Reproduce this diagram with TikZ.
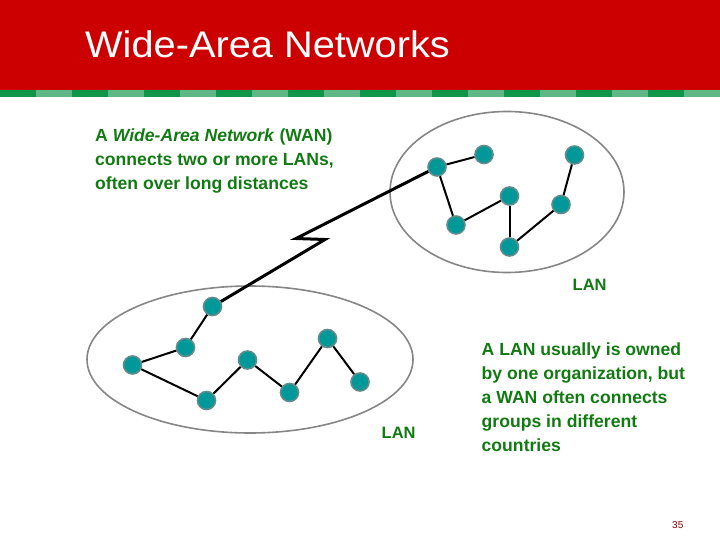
\documentclass[tikz,border=0pt]{standalone}
\usepackage{fontspec}
\setmainfont{Liberation Sans}
\definecolor{hdrred}{RGB}{204,0,0}
\definecolor{stripdark}{RGB}{16,150,72}
\definecolor{striplight}{RGB}{94,184,134}
\definecolor{txtgreen}{RGB}{18,122,18}
\definecolor{nodefill}{RGB}{0,152,152}
\definecolor{nodeedge}{RGB}{98,140,140}
\definecolor{pagered}{RGB}{128,0,0}
\tikzset{
  host/.style={circle,fill=nodefill,draw=nodeedge,line width=1.6bp,minimum size=18bp,inner sep=0pt},
  link/.style={line width=2bp,black},
  wan/.style={line width=3bp,black,line join=miter},
  lanring/.style={draw=gray!95,line width=1.6bp},
  body/.style={text=txtgreen,font={\fontsize{17.6bp}{24bp}\selectfont\bfseries},align=left,anchor=base west,inner sep=0pt},
  lanlabel/.style={text=txtgreen,font={\fontsize{16.5bp}{20bp}\selectfont\bfseries},anchor=base west,inner sep=0pt}
}
\begin{document}
\begin{tikzpicture}[x=1bp,y=-1bp]
\useasboundingbox (0,0) rectangle (720,540);
% header
\fill[hdrred] (0,0) rectangle (720,90);
\foreach \i in {0,...,9}{
  \fill[stripdark] (72*\i,90) rectangle (72*\i+36,97);
  \fill[striplight] (72*\i+36,90) rectangle (72*\i+72,97);
}
\node[anchor=base west,inner sep=0pt,text=white,font={\fontsize{37bp}{40bp}\selectfont}] (title) at (85,57.5) {\scalebox{1.075}[1]{Wide-Area Networks}};
% ellipses
\draw[lanring] (507,192) ellipse [x radius=117,y radius=80.5];
\draw[lanring] (250,359.5) ellipse [x radius=163,y radius=73.5];
% upper LAN hosts
\node[host] (U1) at (437,167) {};
\node[host] (U2) at (484,154.5) {};
\node[host] (U3) at (574.5,155) {};
\node[host] (U4) at (509.5,196) {};
\node[host] (U5) at (561,204.5) {};
\node[host] (U6) at (456,225) {};
\node[host] (U7) at (509.5,247) {};
% lower LAN hosts
\node[host] (L1) at (212.5,306.5) {};
\node[host] (L2) at (185.5,347.5) {};
\node[host] (L3) at (132.5,365) {};
\node[host] (L4) at (206.5,400.5) {};
\node[host] (L5) at (247.5,360) {};
\node[host] (L6) at (289.5,392.5) {};
\node[host] (L7) at (327.5,338.5) {};
\node[host] (L8) at (360,382) {};
% links
\draw[link] (U1) -- (U2);
\draw[link] (U1) -- (U6);
\draw[link] (U6) -- (U4);
\draw[link] (U4) -- (U7);
\draw[link] (U7) -- (U5);
\draw[link] (U5) -- (U3);
\draw[link] (L1) -- (L2);
\draw[link] (L2) -- (L3);
\draw[link] (L3) -- (L4);
\draw[link] (L4) -- (L5);
\draw[link] (L5) -- (L6);
\draw[link] (L6) -- (L7);
\draw[link] (L7) -- (L8);
% WAN link with bolt
\coordinate (b1) at (296,238.5);
\coordinate (b2) at (325,239.5);
\draw[wan] (U1) -- (b1) -- (b2) -- (L1);
% texts (anchor = baseline of last line)
\node[body] (t1) at (95,189.5) {A \textit{Wide-Area Network} (WAN)\\connects two or more LANs,\\often over long distances};
\node[body] (t2) at (481.5,451) {A LAN usually is owned\\by one organization, but\\a WAN often connects\\groups in different\\countries};
\node[lanlabel] (lan1) at (572.5,290.5) {LAN};
\node[lanlabel] (lan2) at (381.5,438.3) {LAN};
\node[anchor=base west,inner sep=0pt,text=pagered,font={\fontsize{10bp}{12bp}\selectfont}] (pg) at (672,528) {35};
\end{tikzpicture}
\end{document}
